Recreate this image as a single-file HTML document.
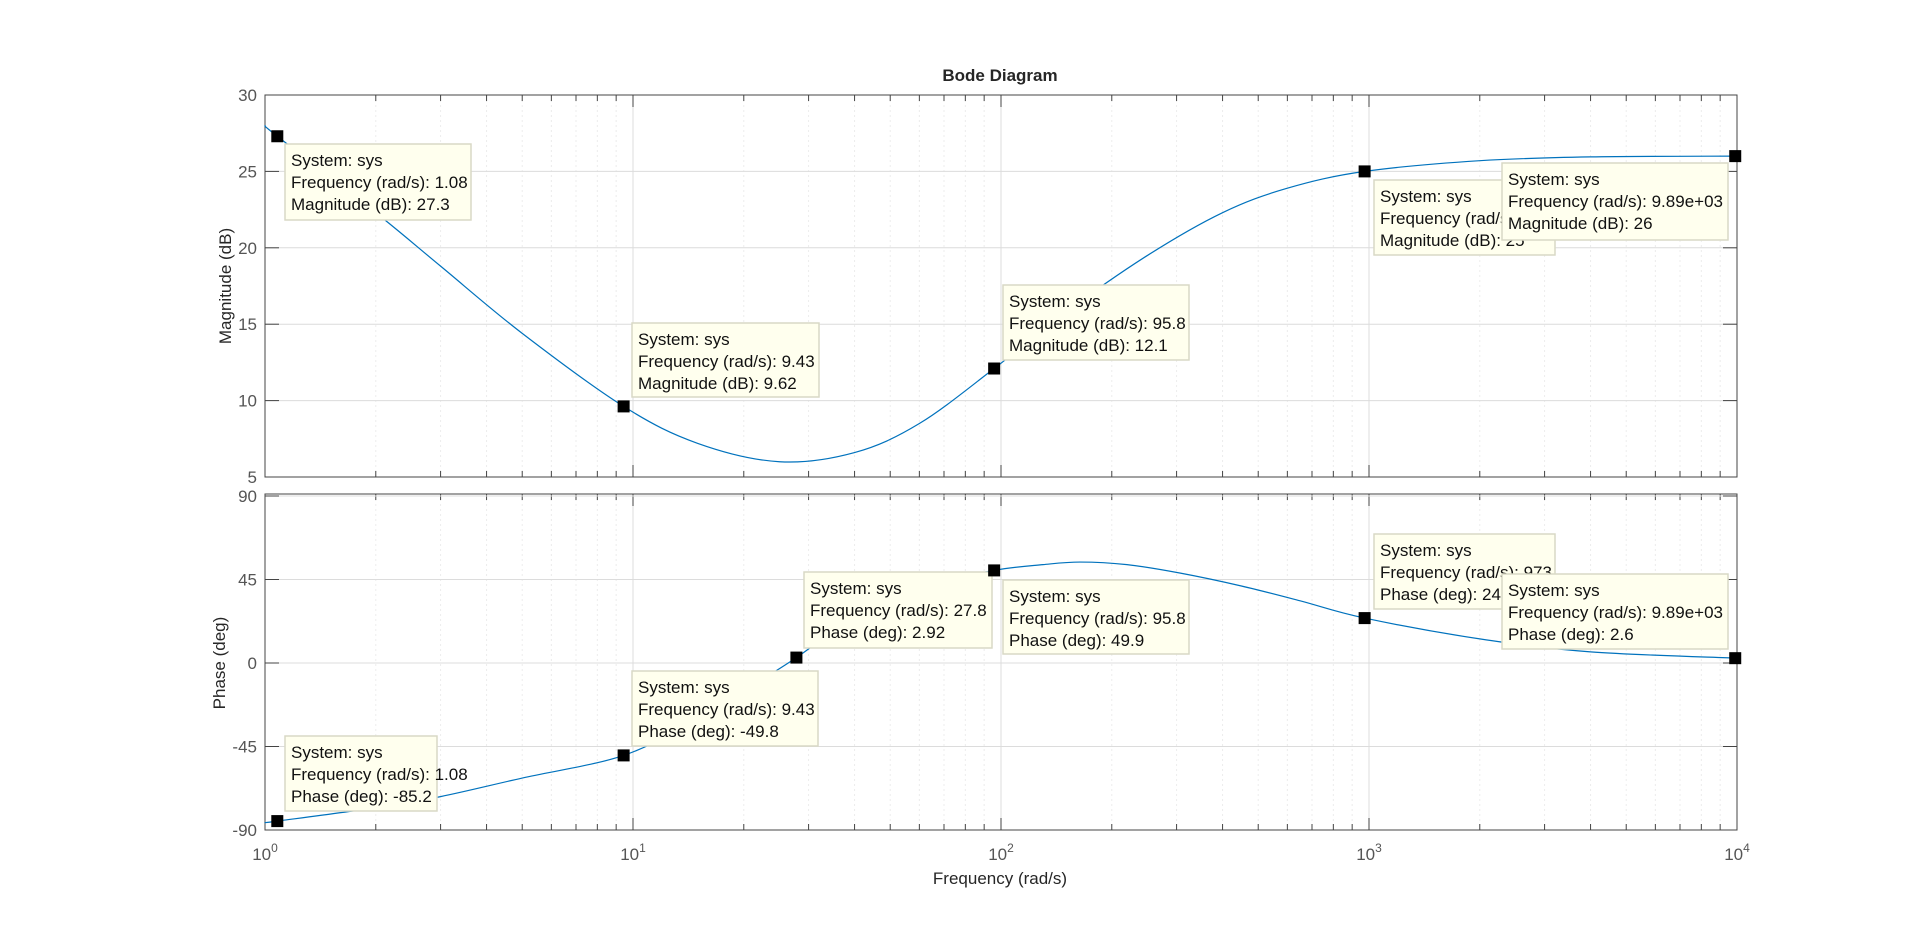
<!DOCTYPE html>
<html><head><meta charset="utf-8">
<style>
html,body{margin:0;padding:0;background:#fff;}
svg{display:block;font-family:"Liberation Sans",Arial,sans-serif;}
</style></head>
<body>
<svg id="chart" width="1920" height="936" viewBox="0 0 1920 936" xmlns="http://www.w3.org/2000/svg">
<rect width="1920" height="936" fill="#fff"/>
<text x="1000" y="81" text-anchor="middle" font-size="17" font-weight="bold" fill="#262626">Bode Diagram</text>
<text x="1000" y="884" text-anchor="middle" font-size="17" fill="#262626">Frequency  (rad/s)</text>
<text transform="translate(231,286) rotate(-90)" text-anchor="middle" font-size="17" fill="#262626">Magnitude (dB)</text>
<text transform="translate(225,663) rotate(-90)" text-anchor="middle" font-size="17" fill="#262626">Phase (deg)</text>
<g id="mag"></g>
<g id="ph"></g>
<g id="tips"></g>
</svg>
<script>
const freqMag = [1, 1.08, 2, 3, 5, 9.43, 15, 25, 40, 60, 95.8, 150, 250, 400, 600, 973, 2000, 4000, 10000];
const magDb   = [28, 27.3, 22.3, 18.8, 14.4, 9.62, 7.2, 6.0, 6.6, 8.5, 12.1, 15.8, 19.5, 22.3, 23.9, 25, 25.7, 25.95, 26];
const freqPh  = [1, 1.08, 2, 3, 5, 9.43, 15, 20, 27.8, 40, 60, 95.8, 130, 164, 220, 306, 450, 650, 973, 2000, 4000, 10000];
const phaseDeg= [-86, -85.2, -78, -72, -62, -49.8, -30, -15, 2.92, 25, 41, 49.9, 53, 54.4, 53, 48.5, 41.5, 33.5, 24.2, 13, 6, 2.6];
const magTicks = [5, 10, 15, 20, 25, 30];
const phTicks = [-90, -45, 0, 45, 90];
const xDecades = [0, 1, 2, 3, 4];
const magTips = [[1.08, 27.3, "1.08", "27.3"], [9.43, 9.62, "9.43", "9.62"], [95.8, 12.1, "95.8", "12.1"], [973, 25, "973", "25"], [9890, 26, "9.89e+03", "26"]];
const phTips = [[1.08, -85.2, "1.08", "-85.2"], [9.43, -49.8, "9.43", "-49.8"], [27.8, 2.92, "27.8", "2.92"], [95.8, 49.9, "95.8", "49.9"], [973, 24.2, "973", "24.2"], [9890, 2.6, "9.89e+03", "2.6"]];
const magBoxes = [[285,144,186,76],[632,323,187,74],[1003,285,186,75],[1374,180,181,75],[1502,163,226,77]];
const phBoxes = [[285,736,152,75],[632,671,186,75],[804,572,188,76],[1003,580,186,74],[1374,534,181,75],[1502,574,226,75]];

const NS = "http://www.w3.org/2000/svg";
const X0 = 265, X1 = 1737;
const xs = f => X0 + (Math.log10(f) - 0) / 4 * (X1 - X0);
const magY = v => 95 + (30 - v) / 25 * (477 - 95);
const phY = v => 496 + (90 - v) / 180 * (830 - 496);
function el(tag, attrs, parent) { const e = document.createElementNS(NS, tag); for (const k in attrs) e.setAttribute(k, attrs[k]); parent.appendChild(e); return e; }

function axes(g, top, bot, ticks, yf, name) {
  el("rect", {x: X0, y: top, width: X1 - X0, height: bot - top, fill: "#fff"}, g);
  for (let d = 0; d < 4; d++) for (let m = 2; m <= 9; m++) {
    const x = xs(Math.pow(10, d) * m);
    el("line", {x1: x, x2: x, y1: top, y2: bot, stroke: "#ececec", "stroke-dasharray": "2,3"}, g);
    el("line", {x1: x, x2: x, y1: top, y2: top + 6, stroke: "#444"}, g);
    el("line", {x1: x, x2: x, y1: bot, y2: bot - 6, stroke: "#444"}, g);
  }
  xDecades.forEach(d => {
    const x = xs(Math.pow(10, d));
    el("line", {x1: x, x2: x, y1: top, y2: bot, stroke: "#dcdcdc"}, g);
    el("line", {x1: x, x2: x, y1: top, y2: top + 12, stroke: "#444"}, g);
    el("line", {x1: x, x2: x, y1: bot, y2: bot - 12, stroke: "#444"}, g);
  });
  ticks.forEach(v => {
    const y = yf(v);
    el("line", {x1: X0, x2: X1, y1: y, y2: y, stroke: "#dcdcdc"}, g);
    el("line", {x1: X0, x2: X0 + 14, y1: y, y2: y, stroke: "#444"}, g);
    el("line", {x1: X1, x2: X1 - 14, y1: y, y2: y, stroke: "#444"}, g);
    const t = el("text", {x: 257, y: y + 6, "text-anchor": "end", "font-size": 17, fill: "#555"}, g);
    
    
    t.textContent = v;
  });
  el("rect", {x: X0, y: top, width: X1 - X0, height: bot - top, fill: "none", stroke: "#444", "stroke-width": 1}, g);
}
function curve(g, fx, vy, yf, name) {
  const pts = fx.map((f, i) => [xs(f), yf(vy[i])]);
  let d = "M" + pts[0][0] + "," + pts[0][1];
  for (let i = 0; i < pts.length - 1; i++) {
    const p0 = pts[Math.max(0, i - 1)], p1 = pts[i], p2 = pts[i + 1], p3 = pts[Math.min(pts.length - 1, i + 2)];
    const c1 = [p1[0] + (p2[0] - p0[0]) / 6, p1[1] + (p2[1] - p0[1]) / 6];
    const c2 = [p2[0] - (p3[0] - p1[0]) / 6, p2[1] - (p3[1] - p1[1]) / 6];
    d += " C" + c1 + " " + c2 + " " + p2;
  }
  const p = el("path", {d: d, fill: "none", stroke: "#0072BD", "stroke-width": 1.2}, g);
  
  
}
const gm = document.getElementById("mag"), gp = document.getElementById("ph"), gt = document.getElementById("tips");
axes(gm, 95, 477, magTicks, magY, "magnitude");
axes(gp, 494, 830, phTicks, phY, "phase");
xDecades.forEach(d => {
  const t = el("text", {x: xs(Math.pow(10, d)), y: 860, "text-anchor": "middle", "font-size": 17, fill: "#555"}, gp);
  
  
  t.textContent = "10";
  const s = el("tspan", {dy: -8, "font-size": 12}, t); s.textContent = d;
});
curve(gm, freqMag, magDb, magY, "magnitude-curve");
curve(gp, freqPh, phaseDeg, phY, "phase-curve");

function tip(f, v, fs, vs, box, yf, label) {
  const g = el("g", {}, gt);
  
  
  el("rect", {x: box[0], y: box[1], width: box[2], height: box[3], fill: "#FFFFEE", stroke: "#d9d9c6", "stroke-width": 1.5}, g);
  const lines = ["System: sys", "Frequency (rad/s): " + fs, label + ": " + vs];
  lines.forEach((s, i) => { const t = el("text", {x: box[0] + 6, y: box[1] + 22 + i * 22, "font-size": 17, fill: "#111"}, g); t.textContent = s; });
  const m = el("rect", {x: xs(f) - 6, y: yf(v) - 6, width: 12, height: 12, fill: "#000"}, g);
  
  
}
magTips.forEach((t, i) => tip(t[0], t[1], t[2], t[3], magBoxes[i], magY, "Magnitude (dB)"));
phTips.forEach((t, i) => tip(t[0], t[1], t[2], t[3], phBoxes[i], phY, "Phase (deg)"));
</script>
</body></html>
